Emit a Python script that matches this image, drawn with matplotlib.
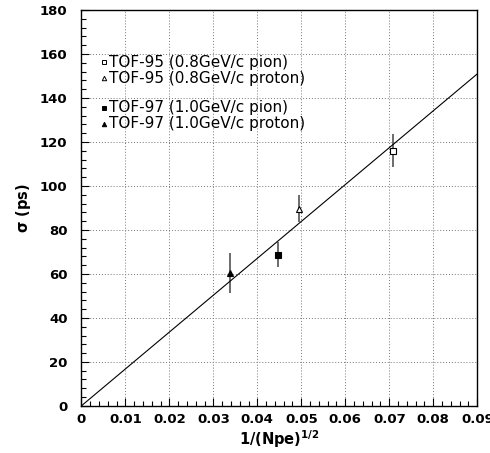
import matplotlib
matplotlib.use("Agg")
import numpy as np
import matplotlib.pyplot as plt
from matplotlib.ticker import MultipleLocator, FuncFormatter

plt.rcParams['font.family'] = ['DejaVu Sans']
plt.rcParams['mathtext.fontset'] = 'dejavusans'

# Measured points: 1/sqrt(Npe) vs time resolution
labels = ["TOF-95 (0.8GeV/c pion)", "TOF-95 (0.8GeV/c proton)",
          "TOF-97 (1.0GeV/c pion)", "TOF-97 (1.0GeV/c proton)"]
x_vals = [0.0708, 0.0495, 0.0446, 0.0338]
sigma = [115.9, 89.7, 68.8, 60.2]
err_lo = [7.5, 6.1, 5.6, 9.1]
err_hi = [7.6, 6.4, 5.7, 9.5]
markers = ['s', '^', 's', '^']
filled = [False, False, True, True]

# fitted line through origin
fit_slope = 1677.0
line_x = [0.0, 0.09]

fig = plt.figure(figsize=(4.90, 4.53), dpi=100)
ax = fig.add_axes([0.166, 0.104, 0.808, 0.874])

ax.plot(line_x, [fit_slope * v for v in line_x], color='black', lw=0.8, zorder=3)

for i in range(len(x_vals)):
    ax.errorbar(x_vals[i], sigma[i], yerr=[[err_lo[i]], [err_hi[i]]],
                fmt='none', ecolor='#606060', elinewidth=1.3, capsize=0, zorder=2)
    ax.plot(x_vals[i], sigma[i], marker=markers[i], ms=4.5, mew=0.8,
            mec='black', mfc='black' if filled[i] else 'white',
            ls='none', zorder=4)

# legend-like labels in the upper left
leg_y = [0.868, 0.827, 0.753, 0.712]
for i in range(len(labels)):
    ax.plot(0.058, leg_y[i], marker=markers[i], ms=3.2, mew=0.7, mec='black',
            mfc='black' if filled[i] else 'white', transform=ax.transAxes,
            clip_on=False, zorder=5)
    ax.text(0.069, leg_y[i], labels[i], transform=ax.transAxes,
            fontsize=11, va='center', ha='left')

ax.set_xlim(0, 0.09)
ax.set_ylim(0, 180)
ax.xaxis.set_major_locator(MultipleLocator(0.01))
ax.xaxis.set_minor_locator(MultipleLocator(0.002))
ax.yaxis.set_major_locator(MultipleLocator(20))
ax.yaxis.set_minor_locator(MultipleLocator(4))
ax.xaxis.set_major_formatter(FuncFormatter(lambda v, p: '0' if abs(v) < 1e-9 else f'{v:.2f}'))

ax.grid(True, which='major', ls=(0, (1, 2)), color='#777777', lw=0.7)
ax.tick_params(which='both', direction='in', top=False, right=False)
ax.tick_params(which='major', length=6, width=0.8, labelsize=9.5)
ax.tick_params(which='minor', length=3.5, width=0.8)
ax.tick_params(axis='y', pad=10)
ax.tick_params(axis='x', pad=5)
for lab in ax.get_xticklabels() + ax.get_yticklabels():
    lab.set_fontweight('bold')
for sp in ax.spines.values():
    sp.set_linewidth(1.0)

ax.set_xlabel(r'1/(Npe)$^{\mathbf{1/2}}$', fontsize=10.5, fontweight='bold', labelpad=2)
ax.set_ylabel(r'$\mathbf{\sigma}$ (ps)', fontsize=10.5, fontweight='bold', labelpad=5)

fig.savefig('out.png', dpi=100)
